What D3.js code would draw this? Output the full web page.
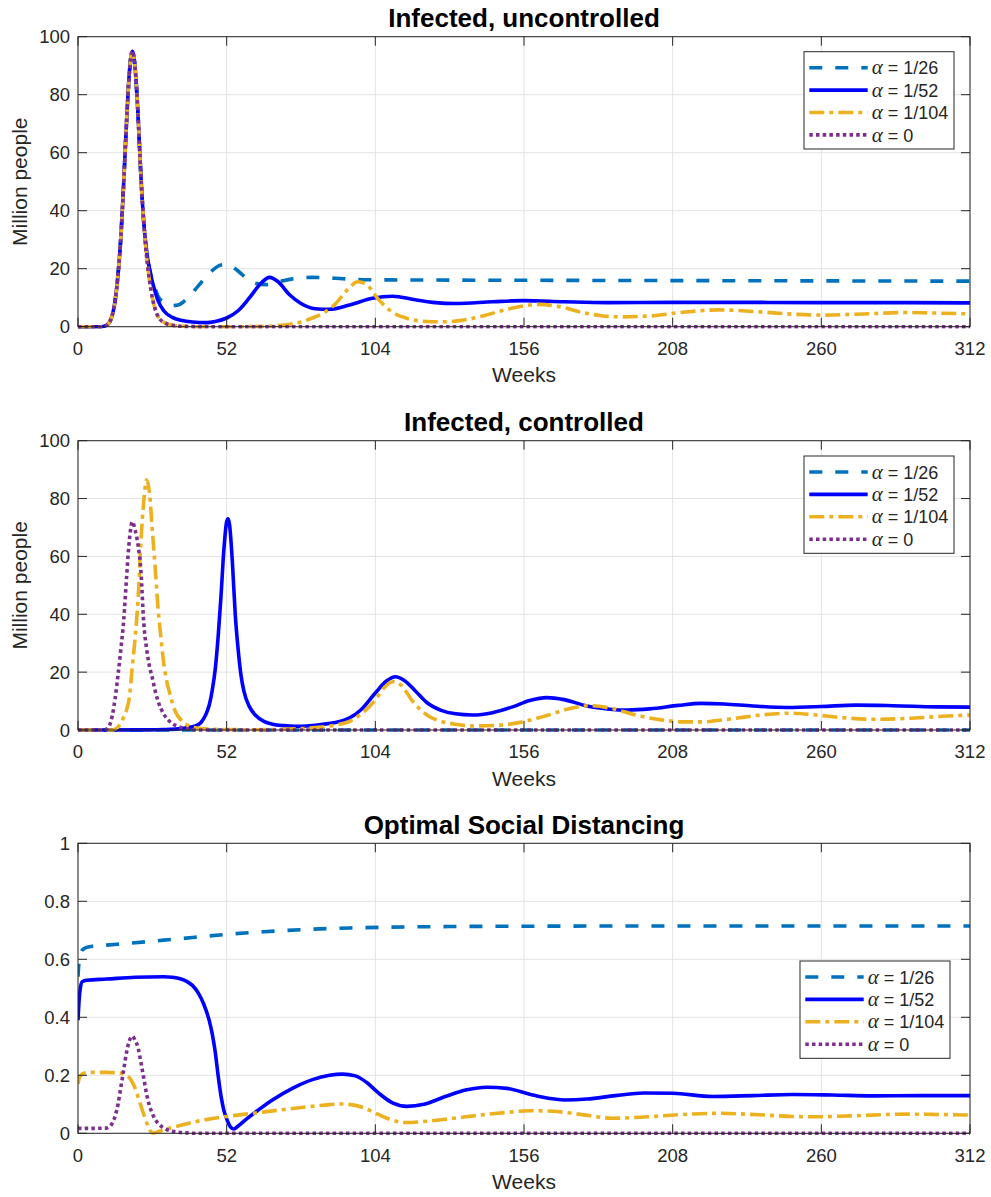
<!DOCTYPE html>
<html><head><meta charset="utf-8">
<script src="https://cdn.jsdelivr.net/npm/d3@7"></script>
<style>body{margin:0;background:#fff}</style>
</head><body><svg id="chart" width="991" height="1197"></svg>
<script>
// ---------- tick labels / categories ----------
const weekTicks = [0, 52, 104, 156, 208, 260, 312];
const infTicks = [0, 20, 40, 60, 80, 100];
const distTicks = [0, 0.2, 0.4, 0.6, 0.8, 1];
const alphaLabels = ["1/26", "1/52", "1/104", "0"];
const panelTitles = ["Infected, uncontrolled", "Infected, controlled", "Optimal Social Distancing"];

// ---------- Panel 1: infected, uncontrolled (million people) ----------
const unc26W = [0,8,10,11,12,13,14,15,16,17,18,19,20,21,22,23,24,25,26,27,28,30,33,35,38,42,46,50,52,55,58,62,66,70,75,82,90,100,120,160,208,260,312];
const unc26V = [0,0,0.5,1.5,4,9,18,31,50,71,88,95,89,73,52,36,26,20,16,13,10.5,8.5,7.3,7.5,9.5,14,18.5,21.3,21.5,20,17.5,15,14.5,15.5,16.5,17,16.7,16.2,16.1,16,15.9,15.8,15.7];
const unc52W = [0,8,10,11,12,13,14,15,16,17,18,19,20,21,22,23,24,25,26,27,28,30,33,36,40,45,48,52,56,60,64,67,70,74,78,83,88,95,103,110,118,125,132,145,156,170,185,208,230,260,290,312];
const unc52V = [0,0,0.5,1.5,4,9,18,31,50,71,88,95,89,73,52,36,26,20,15.5,12,9,5.5,3.2,2.2,1.6,1.4,1.8,3,5.5,10,15,17,15.5,11,8,6.2,6,7.5,9.8,10.5,9.3,8.3,8,8.6,9,8.6,8.3,8.4,8.4,8.3,8.3,8.2];
const unc104W = [0,8,10,11,12,13,14,15,16,17,18,19,20,21,22,23,24,25,26,27,28,30,33,38,45,55,62,68,74,78,82,86,90,94,98,101,105,110,116,122,128,135,142,150,156,161,168,176,183,190,200,210,224,240,250,260,275,290,300,312];
const unc104V = [0,0,0.5,1.5,4,9,18,31,50,71,88,95,89,73,52,36,24,16,10,6,3.5,1.5,0.5,0.1,0,0,0.05,0.25,0.8,1.6,3,4.8,7.8,12.5,15.5,14.5,9.5,5,2.6,1.8,1.7,2.3,3.8,6,7.2,7.7,7,5,3.8,3.4,3.7,4.8,5.8,5,4.3,4,4.4,4.9,4.7,4.4];
const unc0W = [0,8,10,11,12,13,14,15,16,17,18,19,20,21,22,23,24,25,26,27,28,30,33,38,45,312];
const unc0V = [0,0,0.5,1.5,4,9,18,31,50,71,88,95,89,73,52,36,24,16,10,6,3.5,1.5,0.5,0.1,0,0];

// ---------- Panel 2: infected, controlled (million people) ----------
const con26W = [0,312];
const con26V = [0,0];
const con52W = [0,25,30,35,38,41,43,44,45,46,47,48,49,50,51,52,52.5,53,54,55,56,57,58,60,62,65,68,72,76,80,85,90,95,99,104,108,111,114,118,122,127,132,138,145,152,158,164,170,178,186,192,200,210,218,226,236,248,260,272,285,300,312];
const con52V = [0,0.05,0.15,0.4,0.8,1.4,2.6,4,6,9,14,21,32,46,62,72,73,71,58,40,28,19,13.5,8,5.2,3,2,1.5,1.3,1.4,1.9,2.6,4.2,7,12.8,17,18.4,17.2,13.5,9.5,6.8,5.6,5.2,6,8,10.2,11.2,10.5,8.3,7.2,6.9,7.3,8.5,9.2,9,8.3,7.8,8.1,8.6,8.4,8,7.9];
const con104W = [0,12,13,14,15,16,17,18,19,20,21,22,23,24,25,26,27,28,29,30,31,32,34,36,38,42,50,60,70,78,85,90,95,99,104,107,110,113,117,120,123,127,132,138,148,156,164,172,179,186,195,204,212,218,228,240,249,258,268,279,290,300,312];
const con104V = [0,0,0.3,1,2.5,4.5,7,11.5,22,32,45,65,79,86.5,82,69,56,42,32,23,17,13,6.5,3.5,1.8,0.6,0.2,0.1,0.2,0.5,1,1.7,3,5.5,10.4,14.5,16.7,15.5,10,6.8,4.6,3,2,1.4,1.7,2.9,5,7.4,8.4,7.6,5.2,3.5,2.8,2.8,3.8,5.3,5.8,5.2,4.2,3.7,4,4.6,5.2];
const con0W = [0,9,10,11,12,13,14,15,16,17,18,19,20,21,22,23,24,25,26,27,28,30,32,35,38,42,312];
const con0V = [0,0,0.3,1.5,5,11,19,28,38,53,66,72,69,64,55,37,28,22,18,13.5,10,5.5,3,1.2,0.4,0,0];

// ---------- Panel 3: optimal social distancing (fraction) ----------
const dist26W = [0,0.3,0.7,1.2,2,3,5,10,20,30,40,52,65,80,95,110,130,156,200,260,312];
const dist26V = [0.54,0.585,0.612,0.627,0.636,0.641,0.645,0.649,0.657,0.666,0.675,0.686,0.695,0.703,0.708,0.711,0.713,0.714,0.715,0.715,0.715];
const dist52W = [0,0.4,0.8,1.5,3,10,20,30,33,36,38,40,42,44,46,47,48,49,50,51,52,53.5,54.5,56,59,63,68,75,82,88,92.5,97,101,105,110,115,121,128,136,143,150,158,165,170,178,188,198,208,222,236,250,264,278,295,312];
const dist52V = [0.39,0.46,0.5,0.523,0.528,0.532,0.538,0.54,0.538,0.532,0.524,0.51,0.485,0.445,0.385,0.34,0.28,0.2,0.13,0.08,0.05,0.02,0.015,0.025,0.05,0.08,0.115,0.155,0.185,0.2,0.204,0.198,0.175,0.14,0.105,0.093,0.1,0.125,0.15,0.159,0.155,0.135,0.12,0.115,0.118,0.13,0.139,0.138,0.127,0.13,0.134,0.132,0.129,0.13,0.13];
const dist104W = [0,0.4,1,2,4,10,15,17,18.5,20,21.5,23,24.5,26,27.5,31,36,42,52,62,72,82,88,92,96,100,105,110,115,120,130,140,150,158,166,175,187,198,210,224,238,250,258,270,290,300,312];
const dist104V = [0.17,0.19,0.2,0.207,0.21,0.21,0.207,0.2,0.185,0.155,0.11,0.065,0.025,0.001,0.004,0.015,0.028,0.042,0.058,0.07,0.082,0.093,0.099,0.101,0.098,0.088,0.065,0.045,0.037,0.04,0.05,0.062,0.072,0.078,0.076,0.066,0.052,0.056,0.064,0.069,0.064,0.058,0.057,0.06,0.066,0.065,0.063];
const dist0W = [0,5,10,11,12,13,14,15,16,17,18,19,20,21,22,23,24,25,26,27,28,30,33,37,42,50,312];
const dist0V = [0.017,0.017,0.018,0.022,0.035,0.06,0.1,0.16,0.22,0.28,0.32,0.335,0.32,0.295,0.245,0.19,0.135,0.095,0.068,0.048,0.034,0.018,0.007,0.002,0,0,0];

// ---------- styles ----------
const seriesStyles = [
  {color: "#0072BD", dash: "13,13"},
  {color: "#0000FF", dash: null},
  {color: "#EDB120", dash: "15,5,4,5"},
  {color: "#7E2F8E", dash: "3.5,3.2"}
];
const AX = "#262626";
const SANS = "'Liberation Sans', Arial, Helvetica, sans-serif";
const SERIF = "'Liberation Serif', 'Times New Roman', serif";

const zip = (w, v) => w.map((d, i) => [d, v[i]]);

const panels = [
  {top: 36.7, bottom: 326.7, domain: [0, 100], yticks: infTicks, ylabel: "Million people",
   legend: {x: 804, y: 51.7},
   series: [zip(unc26W, unc26V), zip(unc52W, unc52V), zip(unc104W, unc104V), zip(unc0W, unc0V)]},
  {top: 440.7, bottom: 730, domain: [0, 100], yticks: infTicks, ylabel: "Million people",
   legend: {x: 804, y: 456},
   series: [zip(con26W, con26V), zip(con52W, con52V), zip(con104W, con104V), zip(con0W, con0V)]},
  {top: 843.3, bottom: 1133.3, domain: [0, 1], yticks: distTicks, ylabel: null,
   legend: {x: 800, y: 961},
   series: [zip(dist26W, dist26V), zip(dist52W, dist52V), zip(dist104W, dist104V), zip(dist0W, dist0V)]}
];

const X0 = 78, X1 = 970, TICK = 9;
const svg = d3.select("#chart");
svg.append("rect").attr("width", 991).attr("height", 1197).attr("fill", "#fff");

const x = d3.scaleLinear().domain([0, 312]).range([X0, X1]);

panels.forEach((p, pi) => {
  const y = d3.scaleLinear().domain(p.domain).range([p.bottom, p.top]);
  const g = svg.append("g");

  // grid
  g.selectAll(".gx").data(weekTicks).join("line")
    .attr("x1", d => x(d)).attr("x2", d => x(d))
    .attr("y1", p.top).attr("y2", p.bottom)
    .attr("stroke", "#e3e3e3").attr("stroke-width", 1);
  g.selectAll(".gy").data(p.yticks).join("line")
    .attr("x1", X0).attr("x2", X1)
    .attr("y1", d => y(d)).attr("y2", d => y(d))
    .attr("stroke", "#e3e3e3").attr("stroke-width", 1);

  // clip
  const cid = "clip" + pi;
  svg.append("clipPath").attr("id", cid).append("rect")
    .attr("x", X0).attr("y", p.top - 2).attr("width", X1 - X0).attr("height", p.bottom - p.top + 4);

  // lines
  const line = d3.line().x(d => x(d[0])).y(d => y(d[1])).curve(d3.curveMonotoneX);
  const lg = g.append("g").attr("clip-path", `url(#${cid})`);
  p.series.forEach((s, si) => {
    const st = seriesStyles[si];
    lg.append("path").datum(s).attr("d", line)
      .attr("fill", "none").attr("stroke", st.color).attr("stroke-width", 3.6)
      .attr("stroke-dasharray", st.dash).attr("stroke-linejoin", "round");
  });

  // box
  g.append("rect").attr("x", X0).attr("y", p.top).attr("width", X1 - X0).attr("height", p.bottom - p.top)
    .attr("fill", "none").attr("stroke", AX).attr("stroke-width", 1);

  // ticks (inward, all four sides)
  weekTicks.forEach(t => {
    g.append("line").attr("x1", x(t)).attr("x2", x(t)).attr("y1", p.bottom).attr("y2", p.bottom - TICK).attr("stroke", AX);
    g.append("line").attr("x1", x(t)).attr("x2", x(t)).attr("y1", p.top).attr("y2", p.top + TICK).attr("stroke", AX);
  });
  p.yticks.forEach(t => {
    g.append("line").attr("x1", X0).attr("x2", X0 + TICK).attr("y1", y(t)).attr("y2", y(t)).attr("stroke", AX);
    g.append("line").attr("x1", X1).attr("x2", X1 - TICK).attr("y1", y(t)).attr("y2", y(t)).attr("stroke", AX);
  });

  // tick labels
  g.selectAll(".xl").data(weekTicks).join("text")
    .attr("x", d => x(d)).attr("y", p.bottom + 28.3)
    .attr("text-anchor", "middle").attr("font-family", SANS).attr("font-size", 18.5).attr("fill", AX)
    .text(d => String(d));
  g.selectAll(".yl").data(p.yticks).join("text")
    .attr("x", 70).attr("y", d => y(d)).attr("dy", "0.36em")
    .attr("text-anchor", "end").attr("font-family", SANS).attr("font-size", 18.5).attr("fill", AX)
    .text(d => String(d));

  // axis labels
  g.append("text").attr("x", (X0 + X1) / 2).attr("y", p.bottom + 55.7)
    .attr("text-anchor", "middle").attr("font-family", SANS).attr("font-size", 21).attr("fill", AX)
    .text("Weeks");
  if (p.ylabel) {
    g.append("text").attr("transform", `translate(27,${(p.top + p.bottom) / 2}) rotate(-90)`)
      .attr("text-anchor", "middle").attr("font-family", SANS).attr("font-size", 21).attr("fill", AX)
      .text(p.ylabel);
  }

  // title
  g.append("text").attr("x", (X0 + X1) / 2).attr("y", p.top - 9.6)
    .attr("text-anchor", "middle").attr("font-family", SANS).attr("font-size", 26)
    .attr("font-weight", "bold").attr("fill", "#000")
    .text(panelTitles[pi]);

  // legend
  const L = p.legend;
  const leg = g.append("g");
  leg.append("rect").attr("x", L.x).attr("y", L.y).attr("width", 150).attr("height", 97.3)
    .attr("fill", "#fff").attr("stroke", AX).attr("stroke-width", 1);
  alphaLabels.forEach((lab, i) => {
    const ry = L.y + 16 + i * 22.4;
    const st = seriesStyles[i];
    leg.append("line").attr("x1", L.x + 5.3).attr("x2", L.x + 63.7).attr("y1", ry).attr("y2", ry)
      .attr("stroke", st.color).attr("stroke-width", 3.6).attr("stroke-dasharray", st.dash);
    const t = leg.append("text").attr("x", L.x + 67.7).attr("y", ry + 6.6).attr("fill", AX);
    t.append("tspan").attr("font-family", SERIF).attr("font-style", "italic").attr("font-size", 21).text("α");
    t.append("tspan").attr("font-family", SANS).attr("font-size", 18).text(" = " + lab);
  });
});
</script></body></html>
